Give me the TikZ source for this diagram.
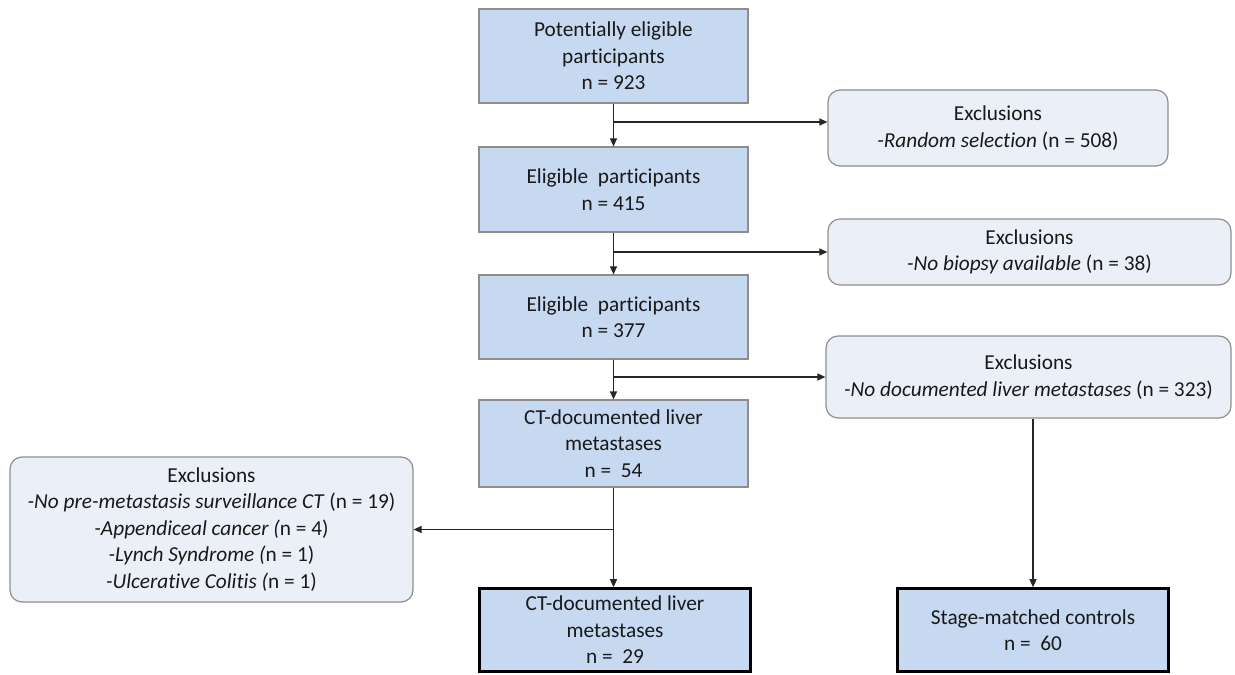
\documentclass[tikz,border=0pt]{standalone}
\usepackage{fontspec}
\setmainfont{Carlito}[Ligatures=NoCommon]
\usetikzlibrary{arrows.meta}
\definecolor{boxblue}{HTML}{C6D9F1}
\definecolor{exfill}{HTML}{EBF0F8}
\definecolor{bordergray}{HTML}{8E8E8E}
\begin{document}
\begin{tikzpicture}[x=1pt,y=-1pt,
  txt/.style={align=center, font=\fontsize{21.3}{26.5}\selectfont, inner sep=0pt, text=black!90},
  mainbox/.style={txt, draw=bordergray, line width=1.2pt, fill=boxblue, minimum width=269pt},
  finalbox/.style={txt, draw=black, line width=2.6pt, fill=boxblue, minimum width=271pt, minimum height=83pt},
  exbox/.style={txt, draw=bordergray, line width=1.2pt, fill=exfill, rounded corners=12pt},
  arr/.style={draw=black!85, line width=1.2pt, -{Triangle[length=8pt,width=7pt]}},
  ln/.style={draw=black!85, line width=1.2pt}
]
\useasboundingbox (0,0) rectangle (1235,675);

% main column
\node[mainbox, minimum height=94pt] (b1) at (613.5,56) {Potentially eligible\\participants\\n = 923};
\node[mainbox, minimum height=85pt] (b2) at (613.5,189.5) {Eligible\ \ participants\\n = 415};
\node[mainbox, minimum height=84pt] (b3) at (613.5,317) {Eligible\ \ participants\\n = 377};
\node[mainbox, minimum height=87pt] (b4) at (613.5,443.5) {CT-documented liver\\metastases\\n = \ 54};
\node[finalbox] (bl) at (615,630) {CT-documented liver\\metastases\\n = \ 29};
\node[finalbox] (br) at (1033,630) {Stage-matched controls\\n = \ 60};

% exclusion boxes
\node[exbox, minimum width=340pt, minimum height=76pt] (e1) at (998,128) {Exclusions\\\textit{-Random selection} (n = 508)};
\node[exbox, minimum width=403pt, minimum height=66pt] (e2) at (1029.5,252) {Exclusions\\\textit{-No biopsy available} (n = 38)};
\node[exbox, minimum width=405pt, minimum height=82pt] (e3) at (1028.5,377) {Exclusions\\\textit{-No documented liver metastases} (n = 323)};
\node[exbox, minimum width=403pt, minimum height=145pt] (e4) at (211.5,529.5) {Exclusions\\\textit{-No pre-metastasis surveillance CT} (n = 19)\\\textit{-Appendiceal cancer (}n = 4)\\\textit{-Lynch Syndrome (}n = 1)\\\textit{-Ulcerative Colitis (}n = 1)};

% connectors
\coordinate (j1) at (613.5,122);
\draw[arr] (b1.south) -- (b2.north);
\draw[arr] (j1) -- (j1 -| e1.west);
\draw[arr] (b2.south) -- (b3.north);
\draw[arr] (b2.south |- e2.west) -- (e2.west);
\draw[arr] (b3.south) -- (b4.north);
\draw[arr] (b3.south |- e3.west) -- (e3.west);
\draw[arr] (b4.south) -- (b4.south |- bl.north);
\draw[arr] (b4.south |- e4.east) -- (e4.east);
\draw[arr] (br.north |- e3.south) -- (br.north);
\end{tikzpicture}
\end{document}
